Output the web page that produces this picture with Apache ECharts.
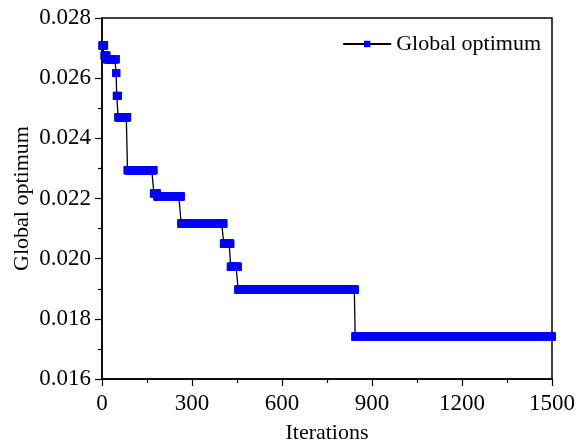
<!DOCTYPE html>
<html>
<head>
<meta charset="utf-8">
<script src="https://cdn.jsdelivr.net/npm/echarts@6/dist/echarts.min.js"></script>
<style>
  html, body { margin: 0; padding: 0; background: #fff; }
  #chart { width: 576px; height: 443px; }
</style>
</head>
<body>
<div id="chart"></div>
<script>
// Iteration at which each new best value was found, and that best value
const changeIters = [1, 8, 16, 47, 49, 54, 85, 173, 184, 264, 406, 429, 454, 844];
const bestValues = [0.02709, 0.02675, 0.02663, 0.02617, 0.02541, 0.0247, 0.02294,
                    0.02217, 0.02207, 0.02117, 0.0205, 0.01973, 0.01897, 0.01741];
const maxIter = 1500;
const xTicks = [0, 300, 600, 900, 1200, 1500];
const yTicks = [0.016, 0.018, 0.020, 0.022, 0.024, 0.026, 0.028];

// Best-so-far value recorded at every iteration
const history = [];
let k = 0;
for (let it = 1; it <= maxIter; it++) {
  while (k + 1 < changeIters.length && changeIters[k + 1] <= it) k++;
  history.push([it, bestValues[k]]);
}

const FONT = '"Liberation Serif", "Times New Roman", serif';
const chart = echarts.init(document.getElementById('chart'), null, { renderer: 'canvas' });

chart.setOption({
  animation: false,
  backgroundColor: '#fff',
  grid: {
    left: 102, right: 24, top: 18, bottom: 64,
    outerBoundsMode: 'none',
    containLabel: false,
    show: true, borderColor: '#000', borderWidth: 1.5
  },
  legend: {
    right: 30, top: 28,
    itemWidth: 48, itemHeight: 8, itemGap: 4,
    textStyle: { fontFamily: FONT, fontSize: 22, color: '#000' },
    data: ['Global optimum']
  },
  xAxis: {
    type: 'value',
    min: xTicks[0], max: xTicks[xTicks.length - 1], interval: 300,
    name: 'Iterations', nameLocation: 'middle', nameGap: 43,
    nameTextStyle: { fontFamily: FONT, fontSize: 22, color: '#000' },
    axisLine: { show: true, lineStyle: { color: '#000', width: 1.5 } },
    axisTick: { show: true, inside: false, length: 7, lineStyle: { color: '#000', width: 1.2 } },
    minorTick: { show: true, splitNumber: 2, length: 4, lineStyle: { color: '#000', width: 1.2 } },
    axisLabel: {
      fontFamily: FONT, fontSize: 23, color: '#000', margin: 13,
      formatter: v => String(v)
    },
    splitLine: { show: false }
  },
  yAxis: {
    type: 'value',
    min: yTicks[0], max: yTicks[yTicks.length - 1], interval: 0.002,
    name: 'Global optimum', nameLocation: 'middle', nameGap: 69,
    nameMoveOverlap: false,
    nameTextStyle: { fontFamily: FONT, fontSize: 22, color: '#000' },
    axisLine: { show: true, lineStyle: { color: '#000', width: 1.5 } },
    axisTick: { show: true, inside: false, length: 7, lineStyle: { color: '#000', width: 1.2 } },
    minorTick: { show: true, splitNumber: 2, length: 4, lineStyle: { color: '#000', width: 1.2 } },
    axisLabel: {
      fontFamily: FONT, fontSize: 23, color: '#000', margin: 11,
      formatter: v => v.toFixed(3)
    },
    splitLine: { show: false }
  },
  series: [{
    name: 'Global optimum',
    type: 'line',
    data: history,
    symbol: 'rect',
    symbolSize: 8,
    showAllSymbol: true,
    clip: true,
    lineStyle: { color: '#000', width: 1.3 },
    itemStyle: { color: '#0000ff' },
    emphasis: { disabled: true }
  }]
});
</script>
</body>
</html>
